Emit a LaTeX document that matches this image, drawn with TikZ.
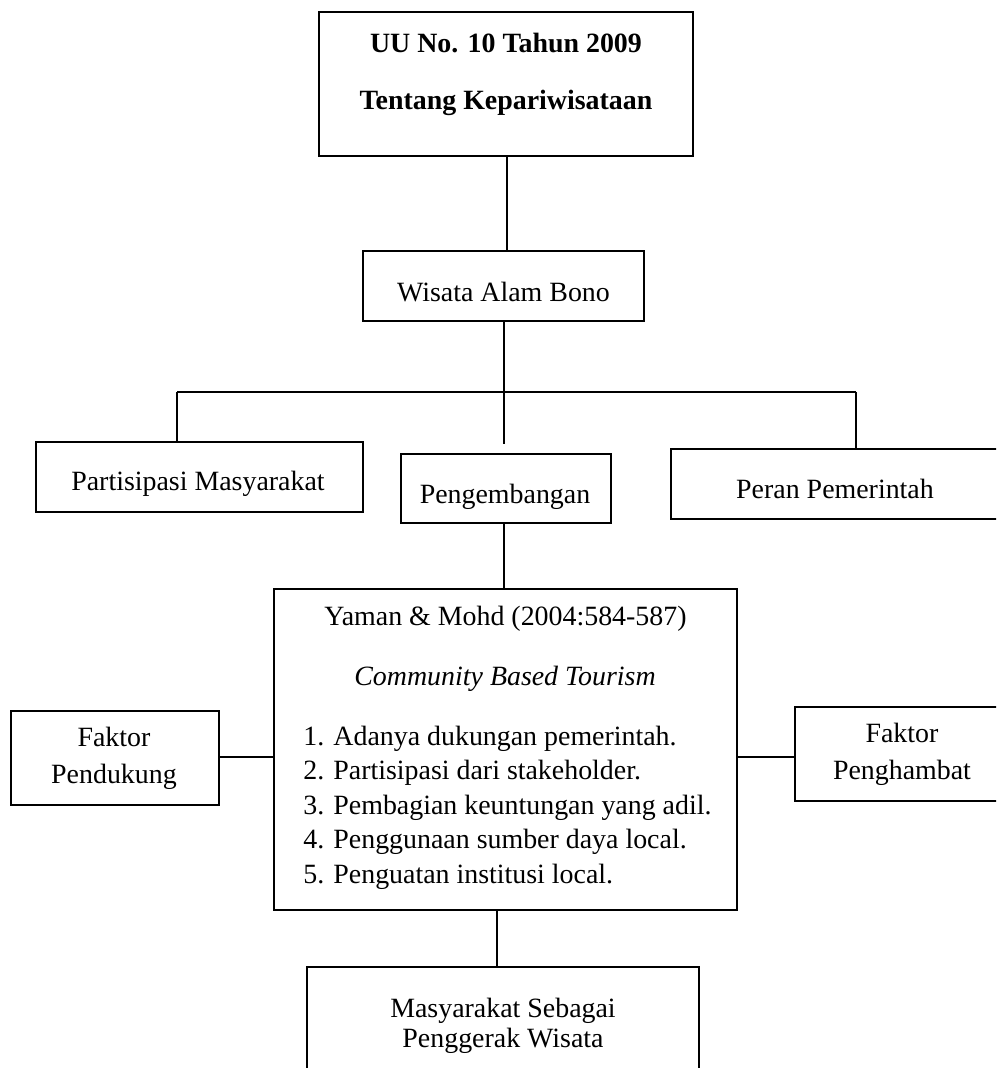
\documentclass[tikz,border=0pt]{standalone}
\usepackage{fontspec}
\setmainfont{Liberation Serif}
\begin{document}
\begin{tikzpicture}[x=0.5pt,y=-0.5pt,
  box/.style={draw,line width=1pt,inner sep=0pt,rectangle},
  conn/.style={line width=0.85pt},
  thickconn/.style={line width=1.4pt},
  txt/.style={inner sep=0pt,anchor=base,font=\fontsize{13.95pt}{16pt}\selectfont},
  ltxt/.style={inner sep=0pt,anchor=base west,font=\fontsize{13.95pt}{16pt}\selectfont}]
\useasboundingbox (0,0) rectangle (996,1068);
\clip (0,0) rectangle (996,1068);
% boxes
\node[box,minimum width=187pt,minimum height=72pt] (top) at (506,84) {};
\node[box,minimum width=140.5pt,minimum height=35pt] (wisata) at (503.5,286) {};
\node[box,minimum width=163.5pt,minimum height=35pt] (part) at (199.5,477) {};
\node[box,minimum width=105pt,minimum height=34.5pt] (peng) at (506,488.5) {};
\node[box,minimum width=165pt,minimum height=35pt] (peran) at (836,484) {};
\node[box,minimum width=231.5pt,minimum height=160.5pt] (yaman) at (505.5,749.5) {};
\node[box,minimum width=104pt,minimum height=47pt] (pend) at (115,758) {};
\node[box,minimum width=107pt,minimum height=47pt] (hamb) at (902,754) {};
\node[box,minimum width=196pt,minimum height=61.5pt] (masy) at (503,1028.5) {};
% texts
\node[txt,font=\fontsize{13.95pt}{16pt}\selectfont\bfseries] (t1) at (506,53) {UU No. 10 Tahun 2009};
\node[txt,font=\fontsize{13.95pt}{16pt}\selectfont\bfseries] (t2) at (506,110) {Tentang Kepariwisataan};
\node[txt] (twis) at (503.5,302) {Wisata Alam Bono};
\node[txt] (tpart) at (198,490) {Partisipasi Masyarakat};
\node[txt] (tpeng) at (505,503) {Pengembangan};
\node[txt] (tperan) at (835,498) {Peran Pemerintah};
\node[txt] (ty1) at (505.5,625) {Yaman \& Mohd (2004:584-587)};
\node[txt] (ty2) at (505,685) {\itshape Community Based Tourism};
\node[ltxt] (n1) at (303,745) {1.};
\node[ltxt] (i1) at (333,745) {Adanya dukungan pemerintah.};
\node[ltxt] (n2) at (303,779.5) {2.};
\node[ltxt] (i2) at (333,779.5) {Partisipasi dari stakeholder.};
\node[ltxt] (n3) at (303,814) {3.};
\node[ltxt] (i3) at (333,814) {Pembagian keuntungan yang adil.};
\node[ltxt] (n4) at (303,848.5) {4.};
\node[ltxt] (i4) at (333,848.5) {Penggunaan sumber daya local.};
\node[ltxt] (n5) at (303,883) {5.};
\node[ltxt] (i5) at (333,883) {Penguatan institusi local.};
\node[txt] (tpd1) at (114,746) {Faktor};
\node[txt] (tpd2) at (114,783) {Pendukung};
\node[txt] (tph1) at (902,742) {Faktor};
\node[txt] (tph2) at (902,779) {Penghambat};
\node[txt] (tm1) at (503,1017) {Masyarakat Sebagai};
\node[txt] (tm2) at (503,1047) {Penggerak Wisata};
% connectors
\coordinate (tc) at (507,0);
\coordinate (hl) at (177,392);
\coordinate (hm) at (504,392);
\coordinate (hr) at (856,392);
\coordinate (hmend) at (504,444);
\coordinate (yc) at (0,757);
\coordinate (bc) at (497,0);
\draw[thickconn] (top.south -| tc) -- (wisata.north -| tc);
\draw[conn] (wisata.south -| hm) -- (hm);
\draw[conn] (hl) -- (hr);
\draw[conn] (hl) -- (hl |- part.north);
\draw[conn] (hm) -- (hmend);
\draw[conn] (hr) -- (hr |- peran.north);
\draw[conn] (peng.south -| hm) -- (yaman.north -| hm);
\draw[conn] (pend.east |- yc) -- (yaman.west |- yc);
\draw[conn] (yaman.east |- yc) -- (hamb.west |- yc);
\draw[conn] (yaman.south -| bc) -- (masy.north -| bc);
\end{tikzpicture}
\end{document}
